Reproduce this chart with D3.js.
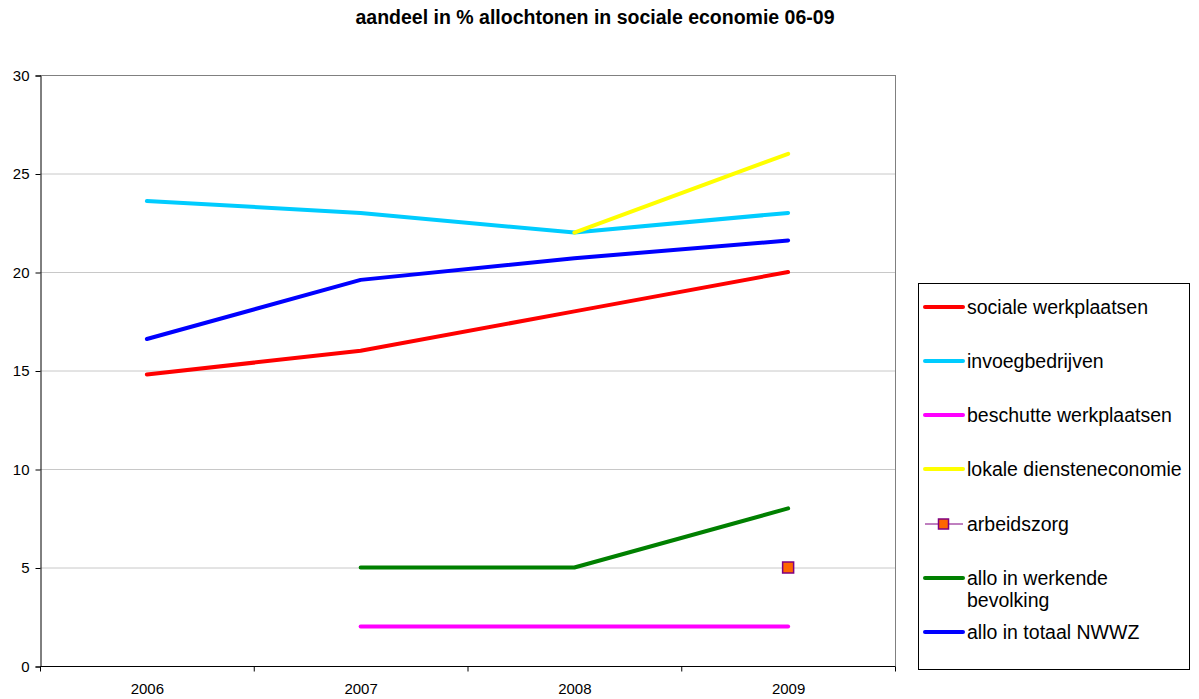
<!DOCTYPE html>
<html><head><meta charset="utf-8">
<script src="https://cdn.jsdelivr.net/npm/d3@7"></script>
<style>body{margin:0;background:#fff;}svg{display:block;font-family:"Liberation Sans",Arial,sans-serif;}</style>
</head><body>
<svg id="c" width="1199" height="699"></svg>
<script>
const categories = ["2006","2007","2008","2009"];
const yTicks = [0,5,10,15,20,25,30];
const socialeWerkplaatsen = [14.8, 16, 18, 20];
const invoegbedrijven = [23.6, 23, 22, 23];
const beschutteWerkplaatsen = [null, 2, 2, 2];
const lokaleDiensteneconomie = [null, null, 22, 26];
const arbeidszorg = [null, null, null, 5];
const alloWerkende = [null, 5, 5, 8];
const alloNWWZ = [16.6, 19.6, 20.7, 21.6];
const seriesNames = ["sociale werkplaatsen","invoegbedrijven","beschutte werkplaatsen","lokale diensteneconomie","arbeidszorg","allo in werkende bevolking","allo in totaal NWWZ"];
const seriesColors = ["#ff0000","#00ccff","#ff00ff","#ffff00","#800080","#008000","#0000ff"];
const seriesValues = [socialeWerkplaatsen, invoegbedrijven, beschutteWerkplaatsen, lokaleDiensteneconomie, arbeidszorg, alloWerkende, alloNWWZ];

const svg = d3.select("#c");
const L=40, R=895, T=75, B=666;
const x = d3.scaleBand().domain(categories).range([L,R]);
const y = d3.scaleLinear().domain([0,30]).range([B,T]);

svg.append("text").attr("x",595).attr("y",24).attr("text-anchor","middle")
  .attr("font-weight","bold").attr("font-size",19.5).text("aandeel in % allochtonen in sociale economie 06-09");

// gridlines
svg.append("g").selectAll("line").data(yTicks.filter(d=>d>0&&d<30)).join("line")
  .attr("x1",L).attr("x2",R).attr("y1",d=>y(d)+0.5).attr("y2",d=>y(d)+0.5)
  .attr("stroke","#c8c8c8").attr("stroke-width",1);
// plot border top/right
svg.append("line").attr("x1",L).attr("x2",R).attr("y1",T+0.5).attr("y2",T+0.5).attr("stroke","#808080");
svg.append("line").attr("x1",R+0.5).attr("x2",R+0.5).attr("y1",T).attr("y2",B).attr("stroke","#808080");

// y axis
const yAxis = d3.axisLeft(y).tickValues(yTicks).tickSize(5).tickPadding(6).tickFormat(d3.format("d"));
const gy = svg.append("g").attr("transform",`translate(${L+0.5},0.5)`).call(yAxis);
gy.select(".domain").attr("stroke","#000");
gy.selectAll("text").attr("font-size",15).attr("font-family","Liberation Sans, Arial, sans-serif").attr("fill","#000");

// x axis
const xAxis = d3.axisBottom(x).tickSize(0).tickPadding(17);
const gx = svg.append("g").attr("transform",`translate(0.5,${B+0.5})`).call(xAxis);
gx.select(".domain").attr("stroke","#000").attr("d",`M${L},0H${R}`);
gx.selectAll("text").attr("font-size",15).attr("font-family","Liberation Sans, Arial, sans-serif").attr("fill","#000");
const bounds = categories.map(c=>x(c)).concat([R]);
gx.append("g").selectAll("line").data(bounds).join("line")
  .attr("x1",d=>d).attr("x2",d=>d).attr("y1",0).attr("y2",5).attr("stroke","#000");

// lines
const line = d3.line().defined(d=>d.v!=null).x(d=>x(d.c)+x.bandwidth()/2).y(d=>y(d.v));
const order = [0,1,2,3,5,6];
order.forEach(i=>{
  const data = categories.map((c,j)=>({c, v: seriesValues[i][j]}));
  svg.append("path").datum(data).attr("d",line).attr("fill","none")
    .attr("stroke",seriesColors[i]).attr("stroke-width",4).attr("stroke-linejoin","round").attr("stroke-linecap","round");
});
// arbeidszorg marker
arbeidszorg.forEach((v,j)=>{
  if(v==null) return;
  const cx = x(categories[j])+x.bandwidth()/2, cy=y(v);
  svg.append("rect").attr("x",cx-5.5).attr("y",cy-5.5).attr("width",11).attr("height",11)
    .attr("fill","#ff6600").attr("stroke","#800080").attr("stroke-width",1.5);
});

// legend
svg.append("rect").attr("x",918.5).attr("y",283.5).attr("width",271).attr("height",386)
  .attr("fill","#fff").attr("stroke","#000").attr("stroke-width",1);
const legY = [307,361,415,469,524,578,632];
seriesNames.forEach((n,i)=>{
  const g = svg.append("g");
  const ly = legY[i];
  if(i===4){
    g.append("line").attr("x1",925).attr("x2",963).attr("y1",ly).attr("y2",ly).attr("stroke","#800080").attr("stroke-width",1);
    g.append("rect").attr("x",938.5).attr("y",ly-5).attr("width",10).attr("height",10).attr("fill","#ff6600").attr("stroke","#800080").attr("stroke-width",1.5);
  } else {
    g.append("line").attr("x1",925).attr("x2",963).attr("y1",ly).attr("y2",ly).attr("stroke",seriesColors[i]).attr("stroke-width",4).attr("stroke-linecap","round");
  }
  if(i===5){
    const t = g.append("text").attr("x",967).attr("y",ly+7).attr("font-size",19.5);
    t.append("tspan").attr("x",967).text("allo in werkende");
    t.append("tspan").attr("x",967).attr("dy",22).text("bevolking");
  } else {
    g.append("text").attr("x",967).attr("y",ly+7).attr("font-size",19.5).text(n);
  }
});
</script>
</body></html>
